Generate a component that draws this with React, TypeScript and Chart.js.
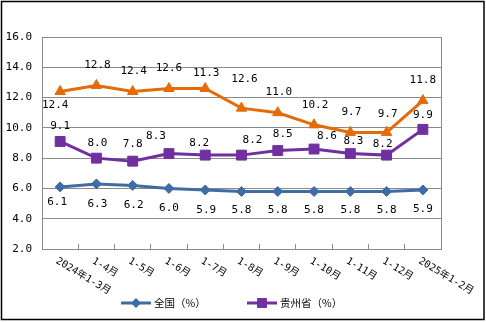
import React, { useEffect, useRef } from "react";
import { Chart, registerables } from "chart.js";

Chart.register(...registerables);

const categories = [
  "2024年1-3月", "1-4月", "1-5月", "1-6月", "1-7月", "1-8月",
  "1-9月", "1-10月", "1-11月", "1-12月", "2025年1-2月",
];
const nationalValues = [6.1, 6.3, 6.2, 6.0, 5.9, 5.8, 5.8, 5.8, 5.8, 5.8, 5.9];
const guizhouValues = [9.1, 8.0, 7.8, 8.3, 8.2, 8.2, 8.5, 8.6, 8.3, 8.2, 9.9];
const orangeValues = [12.4, 12.8, 12.4, 12.6, 12.6, 11.3, 11.0, 10.2, 9.7, 9.7, 11.8];
const orangeLabels = ["12.4", "12.8", "12.4", "12.6", "11.3", "12.6", "11.0", "10.2", "9.7", "9.7", "11.8"];
const yTicks = { min: 2, max: 16, step: 2 };
const seriesNames = ["全国（%）", "贵州省（%）", ""];

const BLUE = "#3F6CA3";
const PURPLE = "#7030A0";
const ORANGE = "#E36C09";
const GRID = "#8A8A8A";
const NUM_FONT = "11px 'DejaVu Sans Mono', 'Noto Sans CJK SC', monospace";
const CAT_FONT = "10px 'DejaVu Sans Mono', 'Noto Sans CJK SC', monospace";
const LEG_FONT = "10.5px 'Noto Sans CJK SC', sans-serif";

// label nudges (presentation only)
const labelNudges: Record<number, { dx: number[]; dy: number[] }> = {
  0: { dx: [-3, 1, 1, 0, 1, 0, 0, 0, 0, 0, 0], dy: [15, 20, 20, 20, 20, 19, 19, 19, 19, 19, 19] },
  1: { dx: [0, 1, 0, -13, -6, 11, 5, 13, 3, -4, 0], dy: [-15, -15, -17, -17, -12, -15, -16, -13, -12, -11, -14] },
  2: { dx: [-5, 1, 1, 0, 1, 3, 1, 1, 1, 1, 0], dy: [14, -20, -20, -20, -15, -29, -21, -20, -20, -18, -20] },
};

const framePlugin = {
  id: "frame",
  beforeDatasetsDraw(chart: any) {
    const { ctx, chartArea } = chart;
    ctx.save();
    ctx.strokeStyle = GRID;
    ctx.lineWidth = 1;
    ctx.strokeRect(Math.round(chartArea.left) + 0.5, Math.round(chartArea.top) + 0.5,
      Math.round(chartArea.right - chartArea.left), Math.round(chartArea.bottom - chartArea.top));
    ctx.restore();
  },
  afterDraw(chart: any) {
    const { ctx } = chart;
    ctx.save();
    ctx.strokeStyle = "#000";
    ctx.lineWidth = 1.5;
    ctx.strokeRect(1.5, 1.5, chart.width - 3.5, chart.height - 4);
    ctx.restore();
  },
};

const dataLabelPlugin = {
  id: "dataLabels",
  afterDatasetsDraw(chart: any) {
    const { ctx } = chart;
    ctx.save();
    ctx.font = NUM_FONT;
    ctx.fillStyle = "#000";
    ctx.textAlign = "center";
    ctx.textBaseline = "middle";
    chart.data.datasets.forEach((ds: any, di: number) => {
      const meta = chart.getDatasetMeta(di);
      const nudge = labelNudges[di];
      meta.data.forEach((pt: any, i: number) => {
        const text = ds.labelTexts ? ds.labelTexts[i] : Number(ds.data[i]).toFixed(1);
        ctx.fillText(text, pt.x + nudge.dx[i], pt.y + nudge.dy[i]);
      });
    });
    ctx.restore();
  },
};

const catLabelPlugin = {
  id: "catLabels",
  afterDraw(chart: any) {
    const { ctx } = chart;
    const xs = chart.scales.x;
    ctx.save();
    ctx.font = CAT_FONT;
    ctx.fillStyle = "#000";
    ctx.textAlign = "left";
    ctx.textBaseline = "top";
    chart.data.labels.forEach((lab: string, i: number) => {
      const x = xs.getPixelForValue(i);
      ctx.save();
      ctx.translate(x - 1, xs.top + 7);
      ctx.rotate((31 * Math.PI) / 180);
      ctx.fillText(lab, 0, 0);
      ctx.restore();
    });
    ctx.restore();
  },
};

function drawMarker(ctx: CanvasRenderingContext2D, style: string, x: number, y: number, r: number, color: string) {
  ctx.fillStyle = color;
  ctx.beginPath();
  if (style === "rectRot") {
    ctx.moveTo(x - r, y); ctx.lineTo(x, y - r); ctx.lineTo(x + r, y); ctx.lineTo(x, y + r);
  } else {
    const s = r * Math.SQRT1_2;
    ctx.rect(x - s, y - s, 2 * s, 2 * s);
  }
  ctx.closePath();
  ctx.fill();
}

const legendPlugin = {
  id: "customLegend",
  afterDraw(chart: any) {
    const { ctx } = chart;
    const positions = [121, 247];
    const y = 303;
    ctx.save();
    chart.data.datasets.forEach((ds: any, di: number) => {
      if (!ds.label) return;
      const x0 = positions[di];
      ctx.strokeStyle = ds.borderColor;
      ctx.lineWidth = 3;
      ctx.beginPath();
      ctx.moveTo(x0, y);
      ctx.lineTo(x0 + 30, y);
      ctx.stroke();
      drawMarker(ctx, ds.pointStyle, x0 + 15, y, ds.pointRadius, ds.backgroundColor);
      ctx.fillStyle = "#000";
      ctx.font = LEG_FONT;
      ctx.textAlign = "left";
      ctx.textBaseline = "middle";
      ctx.fillText(ds.label, x0 + 33, y);
    });
    ctx.restore();
  },
};

export default function App() {
  const canvasRef = useRef<HTMLCanvasElement | null>(null);

  useEffect(() => {
    document.body.style.margin = "0";
    const canvas = canvasRef.current;
    if (!canvas) return;
    const chart = new Chart(canvas, {
      type: "line",
      data: {
        labels: categories,
        datasets: [
          {
            label: seriesNames[0],
            data: nationalValues,
            borderColor: BLUE,
            backgroundColor: BLUE,
            borderWidth: 3,
            pointStyle: "rectRot",
            pointRadius: 5,
            pointBorderWidth: 1,
            tension: 0,
          } as any,
          {
            label: seriesNames[1],
            data: guizhouValues,
            borderColor: PURPLE,
            backgroundColor: PURPLE,
            borderWidth: 3,
            pointStyle: "rect",
            pointRadius: 7,
            pointBorderWidth: 1,
            tension: 0,
          } as any,
          {
            label: seriesNames[2],
            data: orangeValues,
            labelTexts: orangeLabels,
            borderColor: ORANGE,
            backgroundColor: ORANGE,
            borderWidth: 3,
            pointStyle: "triangle",
            pointRadius: 6,
            pointBorderWidth: 1,
            tension: 0,
          } as any,
        ],
      },
      options: {
        responsive: false,
        animation: false,
        devicePixelRatio: 1,
        layout: { padding: { top: 37, right: 45, left: 0, bottom: 0 } },
        plugins: {
          legend: { display: false },
          tooltip: { enabled: false },
        },
        scales: {
          x: {
            type: "category",
            offset: true,
            ticks: { display: false },
            grid: {
              offset: true,
              drawOnChartArea: false,
              drawTicks: true,
              tickLength: -5,
              color: GRID,
            },
            border: { display: true, color: GRID },
            afterFit: (scale: any) => { scale.height = 73; },
          },
          y: {
            min: yTicks.min,
            max: yTicks.max,
            ticks: {
              stepSize: yTicks.step,
              padding: 10,
              color: "#000",
              font: { family: "'DejaVu Sans Mono', monospace", size: 11 },
              callback: (v: any) => Number(v).toFixed(1),
            },
            grid: { color: GRID, drawTicks: false },
            border: { display: true, color: GRID },
            afterFit: (scale: any) => { scale.width = 42; },
          },
        },
      } as any,
      plugins: [framePlugin, dataLabelPlugin, catLabelPlugin, legendPlugin],
    });
    return () => chart.destroy();
  }, []);

  return (
    <div style={{ width: 486, height: 322 }}>
      <canvas ref={canvasRef} width={486} height={322} style={{ display: "block" }} />
    </div>
  );
}
